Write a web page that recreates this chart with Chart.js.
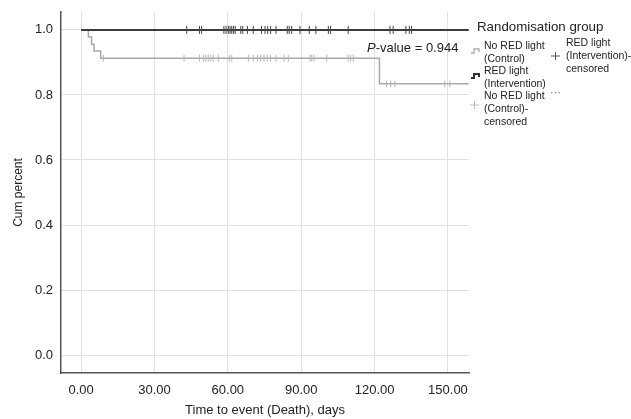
<!DOCTYPE html>
<html>
<head>
<meta charset="utf-8">
<script src="https://cdn.jsdelivr.net/npm/chart.js@4"></script>
<style>
  body { margin: 0; background: #fff; font-family: "Liberation Sans", Arial, sans-serif; color: #222; }
  #wrap { position: relative; width: 631px; height: 419px; overflow: hidden; }
  .txt { position: absolute; white-space: nowrap; color: #222; }
  .lg { position: absolute; font-size: 10.5px; line-height: 13px; color: #222; white-space: nowrap; }
  svg { position: absolute; }
</style>
</head>
<body>
<div id="wrap">
  <canvas id="km" width="631" height="419"></canvas>
  <div class="txt" style="left:367px;top:40px;font-size:13px;"><i>P</i>-value = 0.944</div>
  <div class="txt" style="left:477px;top:19px;font-size:13.3px;">Randomisation group</div>

  <svg style="left:470px;top:46px" width="12" height="10"><polyline points="1,7 4,7 4,3 9,3 9,6" fill="none" stroke="#aaa" stroke-width="1.3"/></svg>
  <div class="lg" style="left:484px;top:39px;">No RED light<br>(Control)</div>

  <svg style="left:470px;top:71px" width="12" height="10"><polyline points="1,7 4,7 4,3 9,3 9,6" fill="none" stroke="#333" stroke-width="2"/></svg>
  <div class="lg" style="left:484px;top:64px;">RED light<br>(Intervention)</div>

  <svg style="left:469px;top:99px" width="12" height="12"><path d="M1,6 H10 M5.5,2 V10" stroke="#bbb" stroke-width="1"/></svg>
  <div class="lg" style="left:484px;top:89px;">No RED light<br>(Control)-<br>censored</div>

  <svg style="left:550px;top:50px" width="12" height="12"><path d="M1,6 H10 M5.5,2 V10" stroke="#555" stroke-width="1"/></svg>
  <div class="lg" style="left:566px;top:36px;">RED light<br>(Intervention)-<br>censored</div>

  <div class="txt" style="left:550px;top:86px;font-size:11px;color:#666;">···</div>
</div>
<script>
// Kaplan-Meier curves (time in days, cumulative survival)
const controlTimes = [0, 3, 4.3, 5.3, 8, 122, 158.5];
const controlSurv  = [1, 0.978, 0.956, 0.935, 0.913, 0.834, 0.834];
const interventionTimes = [0, 158.5];
const interventionSurv  = [1, 1];

// censored observations
const controlCensored = [9.1, 42.1, 48.4, 50, 51, 52, 53, 54, 56.1, 60.6, 61.6, 68.4, 70.4, 72.1,
  73.4, 74.8, 76.1, 77.5, 79.7, 83, 84.7, 93.6, 94.3, 95.2, 100.4, 109.2, 110.2, 111.3,
  124.9, 126.6, 128.3, 148.7, 150.8];
const interventionCensored = [43.2, 48.4, 49.3, 58.4, 59.3, 60.2, 60.9, 61.6, 62.3, 63, 65.3, 66.1,
  68, 70.4, 73.8, 75.2, 76.3, 77.5, 79.7, 84.3, 85.1, 86.1, 89.5, 93.3, 96, 101.1, 102, 109.2,
  126.3, 127.6, 132.8, 134.2, 135.1];

const xTicks = [0, 30, 60, 90, 120, 150];
const yTicks = [0, 0.2, 0.4, 0.6, 0.8, 1.0];

function survAt(times, surv, t) {
  let s = surv[0];
  for (let i = 0; i < times.length; i++) if (times[i] <= t) s = surv[i];
  return s;
}
function pts(times, vals) { return times.map((t, i) => ({x: t, y: vals[i]})); }
function cens(list, times, surv) { return list.map(t => ({x: t, y: survAt(times, surv, t)})); }

const FONT = "'Liberation Sans', Arial, sans-serif";

new Chart(document.getElementById('km'), {
  type: 'scatter',
  data: {
    datasets: [
      { data: pts(controlTimes, controlSurv), showLine: true, stepped: 'before',
        borderColor: '#a9a9a9', borderWidth: 1.5, pointRadius: 0, order: 3 },
      { data: cens(controlCensored, controlTimes, controlSurv), showLine: false,
        pointStyle: 'line', rotation: 90, pointRadius: 3.5, borderColor: '#b5b5b5', borderWidth: 1, order: 2 },
      { data: pts(interventionTimes, interventionSurv), showLine: true, stepped: 'before',
        borderColor: '#3c3c3c', borderWidth: 2, pointRadius: 0, order: 1 },
      { data: cens(interventionCensored, interventionTimes, interventionSurv), showLine: false,
        pointStyle: 'line', rotation: 90, pointRadius: 4, borderColor: '#444', borderWidth: 1, order: 0 }
    ]
  },
  options: {
    responsive: false,
    animation: false,
    layout: { padding: { top: 12, right: 162, left: 0, bottom: 0 } },
    plugins: { legend: { display: false }, tooltip: { enabled: false } },
    scales: {
      x: {
        type: 'linear', min: -8.2, max: 158.6,
        afterFit: s => { s.height = 46; s.paddingLeft = 0; s.paddingRight = 0; },
        afterBuildTicks: s => { s.ticks = xTicks.map(v => ({value: v})); },
        grid: { color: '#e2e2e2', lineWidth: 1, drawTicks: false },
        border: { color: '#555', width: 1.5 },
        ticks: { padding: 10, color: '#222', font: { family: FONT, size: 13 }, callback: v => v.toFixed(2) },
        title: { display: true, text: 'Time to event (Death), days', color: '#222',
                 font: { family: FONT, size: 13 }, padding: { top: 0, bottom: 1 } }
      },
      y: {
        type: 'linear', min: -0.055, max: 1.055,
        afterFit: s => { s.width = 61; s.paddingTop = 0; s.paddingBottom = 0; },
        afterBuildTicks: s => { s.ticks = yTicks.map(v => ({value: v})); },
        grid: { color: '#e2e2e2', lineWidth: 1, drawTicks: false },
        border: { color: '#555', width: 1.5 },
        ticks: { padding: 8, color: '#222', font: { family: FONT, size: 13 }, callback: v => v.toFixed(1) },
        title: { display: true, text: 'Cum percent', color: '#222',
                 font: { family: FONT, size: 12 }, padding: { top: 11, bottom: 0 } }
      }
    }
  }
});
</script>
</body>
</html>
